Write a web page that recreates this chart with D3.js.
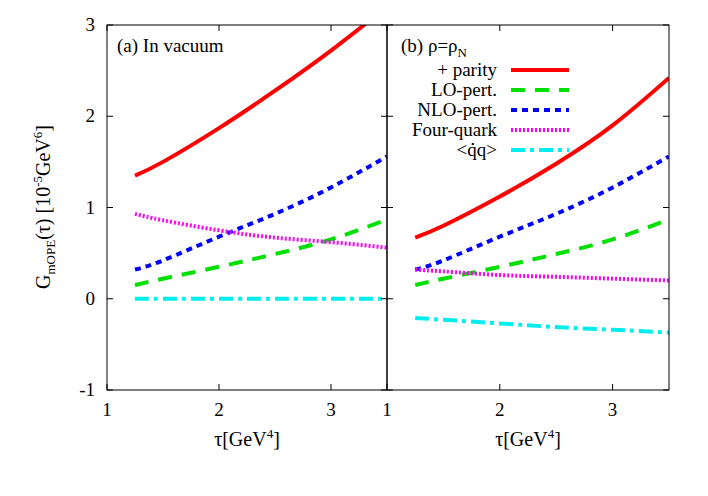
<!DOCTYPE html>
<html><head><meta charset="utf-8">
<script src="https://cdn.jsdelivr.net/npm/d3@7"></script>
<style>body{margin:0;background:#fff}</style>
</head><body><svg id="c" width="708" height="496" font-family="Liberation Serif, Times New Roman, serif"></svg>
<script>
const taus = [1.25, 1.5, 2, 2.5, 3, 3.5];
const xTicks = [1, 2, 3];
const yTicks = [-1, 0, 1, 2, 3];

// panel (a) in vacuum
const vacParity = [1.35, 1.5, 1.87, 2.28, 2.72, 3.2];
const vacLO = [0.15, 0.22, 0.35, 0.49, 0.65, 0.87];
const vacNLO = [0.32, 0.42, 0.68, 0.93, 1.22, 1.56];
const vacFour = [0.93, 0.86, 0.75, 0.67, 0.62, 0.56];
const vacQQ = [0, 0, 0, 0, 0, 0];

// panel (b) rho = rho_N
const medParity = [0.67, 0.8, 1.12, 1.48, 1.9, 2.42];
const medLO = [0.15, 0.22, 0.35, 0.49, 0.65, 0.87];
const medNLO = [0.32, 0.42, 0.68, 0.93, 1.22, 1.56];
const medFour = [0.32, 0.3, 0.26, 0.24, 0.22, 0.2];
const medQQ = [-0.21, -0.23, -0.27, -0.31, -0.34, -0.37];

const styles = [
  {name: "+ parity", color: "#ff0000", dash: null, w: 4},
  {name: "LO-pert.", color: "#00e000", dash: "14,10", w: 4},
  {name: "NLO-pert.", color: "#0000ff", dash: "6,5", w: 4},
  {name: "Four-quark", color: "#ff00ff", dash: "2,2", w: 4},
  {name: "<q\u0307\u0307q>", color: "#00eeee", dash: "14,5,4,5", w: 4}
];

const svg = d3.select("#c");
const plotTop = 25, plotBottom = 390;
const y = d3.scaleLinear().domain([-1, 3]).range([plotBottom, plotTop]);

function panel(x0, x1, series, clipId, showY) {
  const x = d3.scaleLinear().domain([1, 3.5]).range([x0, x1]);
  const g = svg.append("g");
  g.append("clipPath").attr("id", clipId).append("rect")
    .attr("x", x0).attr("y", plotTop).attr("width", x1 - x0).attr("height", plotBottom - plotTop);
  const line = d3.line().x((d, i) => x(taus[i])).y(d => y(d)).curve(d3.curveNatural);
  series.forEach((s, i) => {
    g.append("path").attr("d", line(s)).attr("clip-path", `url(#${clipId})`)
      .attr("fill", "none").attr("stroke", styles[i].color).attr("stroke-width", styles[i].w)
      .attr("stroke-dasharray", styles[i].dash);
  });
  g.append("rect").attr("x", x0).attr("y", plotTop).attr("width", x1 - x0).attr("height", plotBottom - plotTop)
    .attr("fill", "none").attr("stroke", "#000");
  xTicks.forEach(t => {
    g.append("line").attr("x1", x(t)).attr("x2", x(t)).attr("y1", plotBottom).attr("y2", plotBottom - 6).attr("stroke", "#000");
    g.append("line").attr("x1", x(t)).attr("x2", x(t)).attr("y1", plotTop).attr("y2", plotTop + 6).attr("stroke", "#000");
    g.append("text").attr("x", x(t)).attr("y", plotBottom + 26).attr("text-anchor", "middle").attr("font-size", 19).text(t);
  });
  yTicks.forEach(t => {
    g.append("line").attr("x1", x0).attr("x2", x0 + 6).attr("y1", y(t)).attr("y2", y(t)).attr("stroke", "#000");
    g.append("line").attr("x1", x1).attr("x2", x1 - 6).attr("y1", y(t)).attr("y2", y(t)).attr("stroke", "#000");
    if (showY) g.append("text").attr("x", x0 - 12).attr("y", y(t) + 6).attr("text-anchor", "end").attr("font-size", 19).text(t);
  });
  const xl = g.append("text").attr("x", (x0 + x1) / 2).attr("y", 446).attr("text-anchor", "middle").attr("font-size", 20);
  xl.append("tspan").text("τ[GeV");
  xl.append("tspan").attr("font-size", 13).attr("dy", -8).text("4");
  xl.append("tspan").attr("dy", 8).text("]");
  return g;
}

const gA = panel(107, 387, [vacParity, vacLO, vacNLO, vacFour, vacQQ], "ca", true);
gA.append("text").attr("x", 117).attr("y", 52).attr("font-size", 19).text("(a) In vacuum");

const gB = panel(387, 669, [medParity, medLO, medNLO, medFour, medQQ], "cb", false);
const tb = gB.append("text").attr("x", 401).attr("y", 52).attr("font-size", 19);
tb.append("tspan").text("(b) ρ=ρ");
tb.append("tspan").attr("font-size", 13).attr("dy", 5).text("N");

styles.forEach((s, i) => {
  const ly = 70 + i * 20;
  gB.append("text").attr("x", 497).attr("y", ly + 6).attr("text-anchor", "end").attr("font-size", 19).text(s.name);
  gB.append("line").attr("x1", 511).attr("x2", 569).attr("y1", ly).attr("y2", ly)
    .attr("stroke", s.color).attr("stroke-width", s.w).attr("stroke-dasharray", s.dash);
});

// y label
const yl = svg.append("text").attr("transform", "translate(50,207) rotate(-90)").attr("text-anchor", "middle").attr("font-size", 20);
yl.append("tspan").text("G");
yl.append("tspan").attr("font-size", 13).attr("dy", 5).text("mOPE");
yl.append("tspan").attr("dy", -5).text("(τ) [10");
yl.append("tspan").attr("font-size", 13).attr("dy", -8).text("-5");
yl.append("tspan").attr("dy", 8).text("GeV");
yl.append("tspan").attr("font-size", 13).attr("dy", -8).text("6");
yl.append("tspan").attr("dy", 8).text("]");
</script></body></html>
